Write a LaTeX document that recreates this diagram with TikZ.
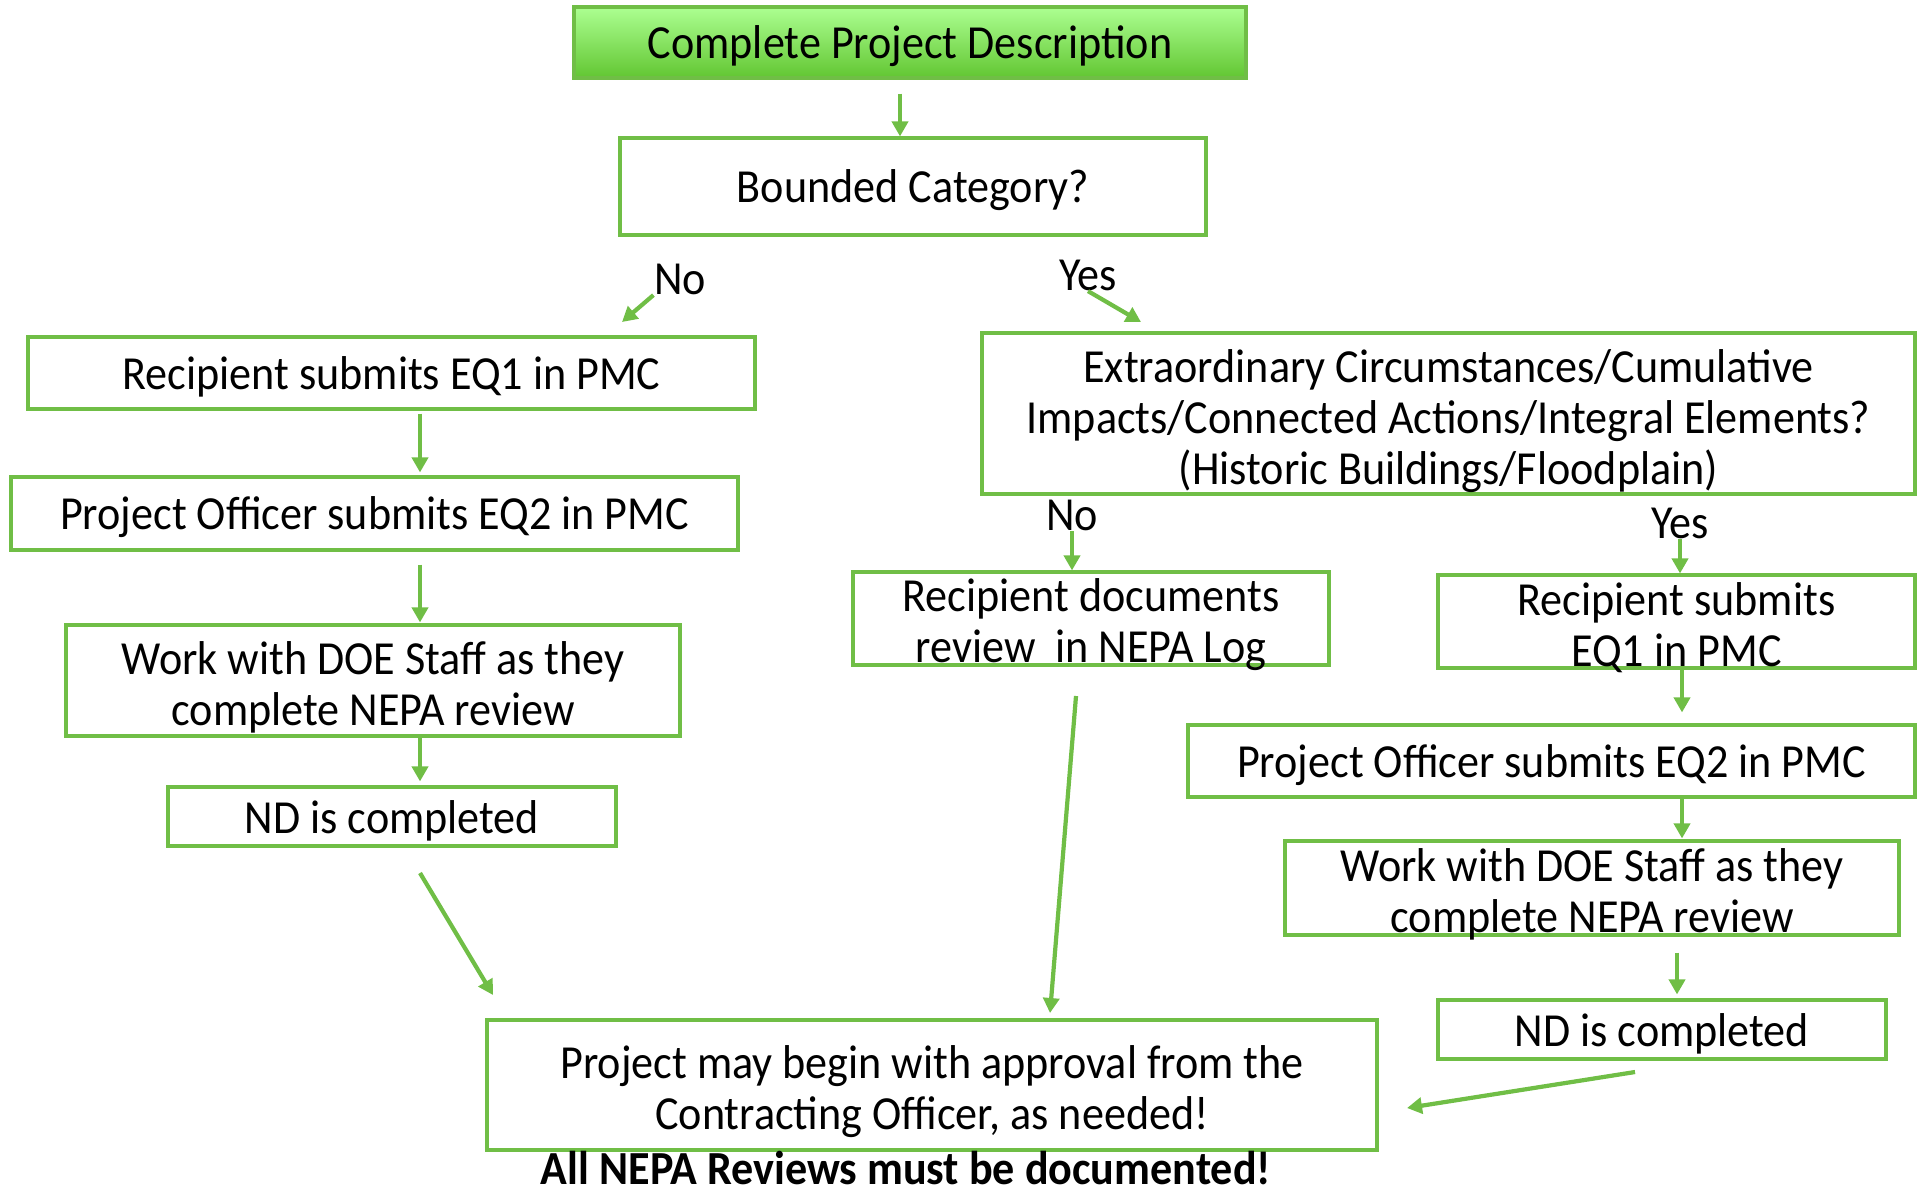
\documentclass[tikz,border=0pt]{standalone}
\usepackage{fontspec}
\setmainfont{Carlito}[FakeStretch=0.93]
\usetikzlibrary{arrows.meta}
\definecolor{boxgreen}{RGB}{112,190,70}
\definecolor{topgreen}{RGB}{172,255,145}
\definecolor{botgreen}{RGB}{98,198,50}
\tikzset{
	stepbox/.style={draw=boxgreen, line width=0.9pt, align=center, inner sep=0pt,
		font=\fontsize{13.5}{14.5}\selectfont, execute at begin node={\rule{0pt}{11.6pt}}},
	multibox/.style={stepbox, inner ysep=-6pt, execute at begin node={\rule{0pt}{#1}}},
	multibox/.default=27.5pt,
	arr/.style={draw=boxgreen, line width=1.2pt, -{Triangle[width=1.6mm,length=1.5mm]}},
	lbl/.style={font=\fontsize{13.5}{14.5}\selectfont, inner sep=0pt}
}
\begin{document}
\begin{tikzpicture}[x=0.1mm, y=-0.1mm]
	\useasboundingbox (0, 0) rectangle (1919, 1191);
	\node [stepbox, top color=topgreen, bottom color=botgreen, minimum width=67.2mm, minimum height=7.1mm] (cpd) at (910, 42.5) {Complete Project Description};
	\node [stepbox, minimum width=58.6mm, minimum height=9.7mm] (bounded) at (913, 186.5) {Bounded Category?};
	\node [stepbox, minimum width=72.7mm, minimum height=7.2mm] (recl) at (391.5, 373) {Recipient submits EQ1 in PMC};
	\node [stepbox, minimum width=72.7mm, minimum height=7.3mm] (pol) at (374.5, 513.5) {Project Officer submits EQ2 in PMC};
	\node [multibox, minimum width=61.4mm, minimum height=11.1mm] (doel) at (373, 680.5) {Work with DOE Staff as they\\complete NEPA review};
	\node [stepbox, minimum width=44.8mm, minimum height=5.9mm] (ndl) at (392, 816.5) {ND is completed};
	\node [multibox=42.5pt, minimum width=93.3mm, minimum height=16.1mm] (extra) at (1448.5, 413.5) {Extraordinary Circumstances/Cumulative\\Impacts/Connected Actions/Integral Elements?\\(Historic Buildings/Floodplain)};
	\node [multibox, minimum width=47.6mm, minimum height=9.3mm] (recdoc) at (1091, 618.5) {Recipient documents\\review\ \ in NEPA Log};
	\node [multibox, minimum width=47.7mm, minimum height=9.3mm] (recr) at (1676.5, 621.5) {Recipient submits\\EQ1 in PMC};
	\node [stepbox, minimum width=72.7mm, minimum height=7.2mm] (por) at (1551.5, 761) {Project Officer submits EQ2 in PMC};
	\node [multibox, minimum width=61.4mm, minimum height=9.4mm] (doer) at (1592, 888) {Work with DOE Staff as they\\complete NEPA review};
	\node [stepbox, minimum width=44.8mm, minimum height=5.9mm] (ndr) at (1662, 1029.5) {ND is completed};
	\node [multibox, minimum width=89mm, minimum height=13mm] (begin) at (932, 1085) {Project may begin with approval from the\\Contracting Officer, as needed!};
	\node [lbl, font=\fontsize{13.5}{14.5}\selectfont\bfseries] (note) at (906, 1168) {All NEPA Reviews must be documented!};
	\node [lbl] (nol) at (680, 279) {No};
	\node [lbl] (yesl) at (1088, 275) {Yes};
	\node [lbl] (nor) at (1072, 515) {No};
	\node [lbl] (yesr) at (1680, 523) {Yes};
	\coordinate (lcol) at (420, 0);
	\coordinate (rcol) at (1682, 0);
	\coordinate (noend) at (622, 322);
	\coordinate (yesend) at (1141, 322);
	\coordinate (lstart) at (420, 873);
	\coordinate (lend) at (493, 995);
	\coordinate (mstart) at (1076, 696);
	\coordinate (mend) at (1050, 1013);
	\coordinate (rstart) at (1635, 1072);
	\coordinate (rend) at (1407, 1108);
	\draw [arr, shorten <=1.4mm] (cpd.south -| 900, 0) -- (bounded.north -| 900, 0);
	\draw [arr] (nol.south west) -- (noend);
	\draw [arr] (yesl.south) -- (yesend);
	\draw [arr, shorten <=0.3mm, shorten >=0.3mm] (recl.south -| lcol) -- (pol.north -| lcol);
	\draw [arr, shorten <=1.3mm, shorten >=0.1mm] (pol.south -| lcol) -- (doel.north -| lcol);
	\draw [arr, shorten >=0.4mm] (doel.south -| lcol) -- (ndl.north -| lcol);
	\draw [arr] (lstart) -- (lend);
	\draw [arr] (nor.south) -- (recdoc.north -| nor.south);
	\draw [arr] (yesr.south) -- (recr.north -| yesr.south);
	\draw [arr] (mstart) -- (mend);
	\draw [arr, shorten >=1.1mm] (recr.south -| rcol) -- (por.north -| rcol);
	\draw [arr, shorten >=0.1mm] (por.south -| rcol) -- (doer.north -| rcol);
	\draw [arr, shorten <=1.6mm, shorten >=0.4mm] (doer.south -| 1677, 0) -- (ndr.north -| 1677, 0);
	\draw [arr] (rstart) -- (rend);
\end{tikzpicture}
\end{document}
